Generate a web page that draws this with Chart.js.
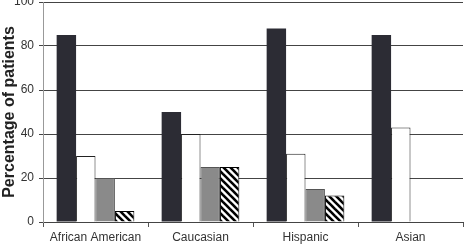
<!DOCTYPE html>
<html>
<head>
<meta charset="utf-8">
<script src="https://cdn.jsdelivr.net/npm/chart.js@4"></script>
<style>
  html, body { margin: 0; padding: 0; background: #fff; }
  #wrap { width: 464px; height: 244px; }
</style>
</head>
<body>
<div id="wrap"><canvas id="myChart" width="464" height="244"></canvas></div>
<script>
// chart values
let groupLabels = ['African American', 'Caucasian', 'Hispanic', 'Asian'];
let seriesA = [85, 50, 88, 85];
let seriesB = [30, 40, 31, 43];
let seriesC = [20, 25, 15, null];
let seriesD = [5, 25, 12, null];
let yTicks = [0, 20, 40, 60, 80, 100];

//diagonal black and white stripes for the last series
function makeHatch() {
    let c = document.createElement('canvas');
    c.width = 7;
    c.height = 7;
    let x = c.getContext('2d');
    x.fillStyle = '#fff';
    x.fillRect(0, 0, 7, 7);
    x.strokeStyle = '#000';
    x.lineWidth = 2.6;
    for (let k = -7; k <= 7; k += 7) {
        x.beginPath();
        x.moveTo(k - 1, -1);
        x.lineTo(k + 8, 8);
        x.stroke();
    }
    return x.createPattern(c, 'repeat');
}

let elCanvas = document.getElementById('myChart').getContext('2d');

let elChart = new Chart(elCanvas, {
    type: 'bar',
    data: {
        labels: groupLabels,
        datasets: [
            { data: seriesA, backgroundColor: '#2c2c34', borderWidth: 0 },
            { data: seriesB, backgroundColor: '#ffffff', borderColor: '#222', borderWidth: 1 },
            { data: seriesC, backgroundColor: '#8a8a8a', borderColor: '#555', borderWidth: 1 },
            { data: seriesD, backgroundColor: makeHatch(), borderColor: '#000', borderWidth: 1 }
        ]
    },
    options: {
        responsive: false,
        animation: false,
        layout: { padding: { top: 2, right: 1, left: 0, bottom: 0 } },
        datasets: { bar: { barPercentage: 1, categoryPercentage: 0.74, borderSkipped: 'start' } },
        plugins: { legend: { display: false }, tooltip: { enabled: false } },
        font: { family: 'Liberation Sans, Arial, sans-serif' },
        scales: {
            x: {
                grid: { drawOnChartArea: false, offset: true, tickLength: 5, color: '#555' },
                border: { color: '#444' },
                ticks: { color: '#333', font: { family: 'Liberation Sans, Arial, sans-serif', size: 12 }, padding: 3 },
                afterFit: function (s) { s.height = 22; }
            },
            y: {
                min: 0,
                max: 100,
                afterBuildTicks: function (s) { s.ticks = yTicks.map(v => ({ value: v })); },
                grid: { color: '#444', tickLength: 4 },
                border: { color: '#999' },
                ticks: { color: '#333', font: { family: 'Liberation Sans, Arial, sans-serif', size: 12 }, padding: 5 },
                title: {
                    display: true,
                    text: 'Percentage of patients',
                    color: '#222',
                    font: { family: 'Liberation Sans, Arial, sans-serif', size: 16, weight: 'bold' },
                    padding: { top: 0, bottom: 2 }
                },
                afterFit: function (s) { s.width = 43; s.paddingTop = 0; }
            }
        }
    }
});
</script>
</body>
</html>
